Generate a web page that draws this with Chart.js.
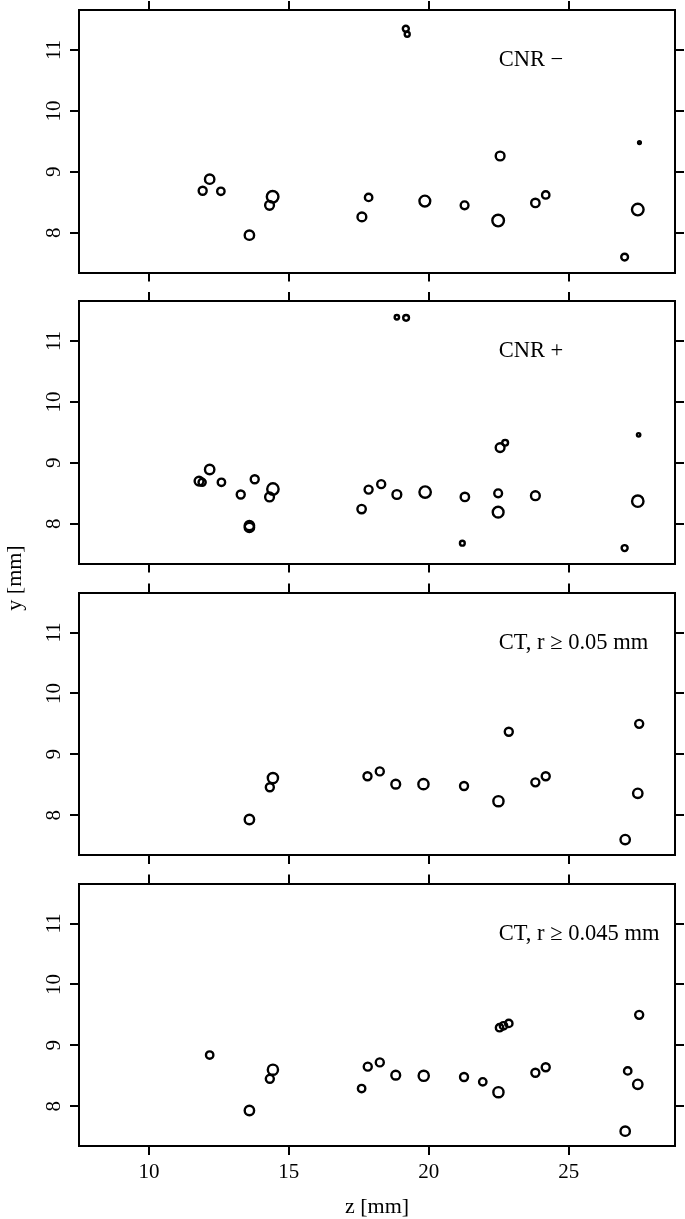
<!DOCTYPE html>
<html>
<head>
<meta charset="utf-8">
<script src="https://cdn.jsdelivr.net/npm/chart.js@4.4.1/dist/chart.umd.min.js"></script>
<style>
html, body { margin: 0; padding: 0; background: #ffffff; }
#wrap { position: relative; width: 685px; height: 1219px; overflow: hidden; background: #ffffff; }
#wrap canvas { position: absolute; left: 0; top: 0; }
</style>
</head>
<body>
<div id="wrap">
  <canvas id="p0" width="685" height="1219"></canvas>
  <canvas id="p1" width="685" height="1219"></canvas>
  <canvas id="p2" width="685" height="1219"></canvas>
  <canvas id="p3" width="685" height="1219"></canvas>
</div>
<script>
// ---------------- data ----------------
const xTicks = [10, 15, 20, 25];
const yTicks = [8, 9, 10, 11];
const xTitle = "z [mm]";
const yTitle = "y [mm]";
const panelLabels = ["CNR \u2212", "CNR +", "CT, r \u2265 0.05 mm", "CT, r \u2265 0.045 mm"];

// Panel 1: CNR -
const cnrMinusZ = [11.92, 12.17, 12.57, 13.59, 14.31, 14.42, 17.61, 17.85, 19.18, 19.23, 19.86, 21.28, 22.48, 22.55, 23.81, 24.18, 27.00, 27.47, 27.53];
const cnrMinusY = [8.69, 8.88, 8.68, 7.96, 8.45, 8.59, 8.26, 8.58, 11.35, 11.26, 8.52, 8.45, 8.20, 9.26, 8.49, 8.62, 7.60, 8.38, 9.48];
const cnrMinusR = [4.0, 4.7, 3.7, 4.7, 4.4, 5.8, 4.4, 3.7, 3.0, 2.5, 5.4, 3.9, 5.8, 4.4, 4.2, 3.7, 3.4, 5.8, 1.4];

// Panel 2: CNR +
const cnrPlusZ = [11.79, 11.90, 12.17, 12.59, 13.28, 13.59, 13.59, 13.78, 14.31, 14.43, 17.60, 17.85, 18.30, 18.86, 18.86, 19.19, 19.87, 21.20, 21.29, 22.48, 22.48, 22.55, 22.73, 23.81, 27.00, 27.47, 27.50];
const cnrPlusY = [8.70, 8.68, 8.89, 8.68, 8.48, 7.97, 7.94, 8.73, 8.44, 8.57, 8.24, 8.56, 8.65, 8.48, 11.39, 11.38, 8.52, 7.68, 8.44, 8.50, 8.19, 9.25, 9.33, 8.46, 7.60, 8.37, 9.46];
const cnrPlusR = [4.4, 3.6, 4.7, 3.7, 4.0, 4.7, 4.7, 4.0, 4.4, 5.7, 4.2, 4.0, 4.0, 4.4, 2.2, 2.9, 5.7, 2.4, 4.2, 3.9, 5.4, 4.4, 2.9, 4.4, 3.0, 5.7, 1.7];

// Panel 3: CT, r >= 0.05 mm
const ct050Z = [13.59, 14.32, 14.43, 17.81, 18.25, 18.82, 19.81, 21.26, 22.49, 22.86, 23.81, 24.18, 27.02, 27.47, 27.52];
const ct050Y = [7.93, 8.46, 8.61, 8.64, 8.72, 8.51, 8.51, 8.48, 8.23, 9.37, 8.54, 8.64, 7.60, 8.36, 9.50];
const ct050R = [4.7, 4.0, 5.1, 4.0, 4.0, 4.4, 5.1, 4.0, 5.1, 4.0, 4.0, 4.0, 4.7, 4.7, 4.0];

// Panel 4: CT, r >= 0.045 mm
const ct045Z = [12.17, 13.59, 14.32, 14.43, 17.60, 17.82, 18.25, 18.82, 19.82, 21.26, 21.93, 22.49, 22.53, 22.67, 22.86, 23.81, 24.18, 27.02, 27.11, 27.47, 27.52];
const ct045Y = [8.84, 7.93, 8.45, 8.60, 8.29, 8.65, 8.72, 8.51, 8.50, 8.48, 8.40, 8.23, 9.29, 9.32, 9.36, 8.55, 8.64, 7.59, 8.58, 8.36, 9.50];
const ct045R = [3.7, 4.7, 4.0, 5.1, 3.7, 4.0, 4.0, 4.4, 5.1, 4.0, 3.7, 5.1, 3.7, 3.7, 3.7, 4.0, 4.0, 4.7, 3.7, 4.7, 4.0];

// axis ranges
const xMin = 7.5, xMax = 28.8;
const yMin = 7.347, yMax = 11.657;
// panel label anchor (data coords)
const labelZ = 22.5, labelY = 10.83;

// ---------------- layout / style ----------------
const W = 685, H = 1219;
const PANEL_TOP = [10, 301, 592.5, 883.5];
const PANEL_H = 262.5;
const LEFT_W = 79, RIGHT_W = 10, TICK_BOX = 10;
const SERIF = "'Liberation Serif', 'Times New Roman', 'DejaVu Serif', serif";

const panelTextPlugin = {
  id: 'panelText',
  afterDraw(chart, args, opts) {
    const ctx = chart.ctx;
    const xs = chart.scales.x, ys = chart.scales.y;
    ctx.save();
    ctx.fillStyle = '#000';
    ctx.font = '22.5px ' + SERIF;
    ctx.textAlign = 'left';
    ctx.textBaseline = 'middle';
    ctx.fillText(opts.text, xs.getPixelForValue(opts.z), ys.getPixelForValue(opts.y));
    if (opts.yTitle) {
      ctx.font = '22px ' + SERIF;
      ctx.translate(15, 578);
      ctx.rotate(-Math.PI / 2);
      ctx.textAlign = 'center';
      ctx.fillText(opts.yTitle, 0, 0);
    }
    ctx.restore();
  }
};

function makePanel(i, zs, ys, rs) {
  const last = i === 3;
  const top = PANEL_TOP[i];
  const bottom = top + PANEL_H;
  const setTicks = vals => s => { s.ticks = vals.map(v => ({ value: v })); };
  const fixed = (dim, val) => s => {
    s[dim] = val;
    s.paddingTop = 0; s.paddingBottom = 0; s.paddingLeft = 0; s.paddingRight = 0;
  };
  const grid = { display: true, drawOnChartArea: false, drawTicks: true, tickLength: 9, tickWidth: 2, tickColor: '#000', color: '#000', lineWidth: 2 };
  const border = { display: true, color: '#000', width: 2 };
  const tickFont = { family: SERIF, size: 21 };

  return new Chart(document.getElementById('p' + i), {
    type: 'bubble',
    data: {
      datasets: [{
        data: zs.map((z, k) => ({ x: z, y: ys[k], r: rs[k] })),
        borderColor: '#000',
        backgroundColor: 'rgba(0,0,0,0)',
        borderWidth: 2.4,
        hoverRadius: 0
      }]
    },
    options: {
      responsive: false,
      animation: false,
      devicePixelRatio: 1,
      events: [],
      layout: { padding: { top: top - TICK_BOX, bottom: last ? 0 : (H - bottom - TICK_BOX), left: 0, right: 0 } },
      plugins: {
        legend: { display: false },
        tooltip: { enabled: false },
        title: { display: false },
        panelText: { text: panelLabels[i], z: labelZ, y: labelY, yTitle: last ? yTitle : null }
      },
      scales: {
        x: {
          type: 'linear', position: 'bottom', min: xMin, max: xMax,
          afterBuildTicks: setTicks(xTicks),
          afterFit: fixed('height', last ? (H - bottom) : TICK_BOX),
          grid: grid, border: border,
          ticks: { display: last, color: '#000', font: tickFont, padding: 5, minRotation: 0, maxRotation: 0, autoSkip: false },
          title: { display: last, text: xTitle, color: '#000', font: { family: SERIF, size: 22, lineHeight: 1.1 }, padding: { top: 0, bottom: 0 } }
        },
        x2: {
          type: 'linear', axis: 'x', position: 'top', min: xMin, max: xMax,
          afterBuildTicks: setTicks(xTicks),
          afterFit: fixed('height', TICK_BOX),
          grid: grid, border: border,
          ticks: { display: false }
        },
        y: {
          type: 'linear', position: 'left', min: yMin, max: yMax,
          afterBuildTicks: setTicks(yTicks),
          afterFit: fixed('width', LEFT_W),
          grid: grid, border: border,
          ticks: { display: true, color: '#000', font: tickFont, minRotation: 90, maxRotation: 90, crossAlign: 'center', padding: 5.5, autoSkip: false }
        },
        y2: {
          type: 'linear', axis: 'y', position: 'right', min: yMin, max: yMax,
          afterBuildTicks: setTicks(yTicks),
          afterFit: fixed('width', RIGHT_W),
          grid: grid, border: border,
          ticks: { display: false }
        }
      }
    },
    plugins: [panelTextPlugin]
  });
}

makePanel(0, cnrMinusZ, cnrMinusY, cnrMinusR);
makePanel(1, cnrPlusZ, cnrPlusY, cnrPlusR);
makePanel(2, ct050Z, ct050Y, ct050R);
makePanel(3, ct045Z, ct045Y, ct045R);
</script>
</body>
</html>
